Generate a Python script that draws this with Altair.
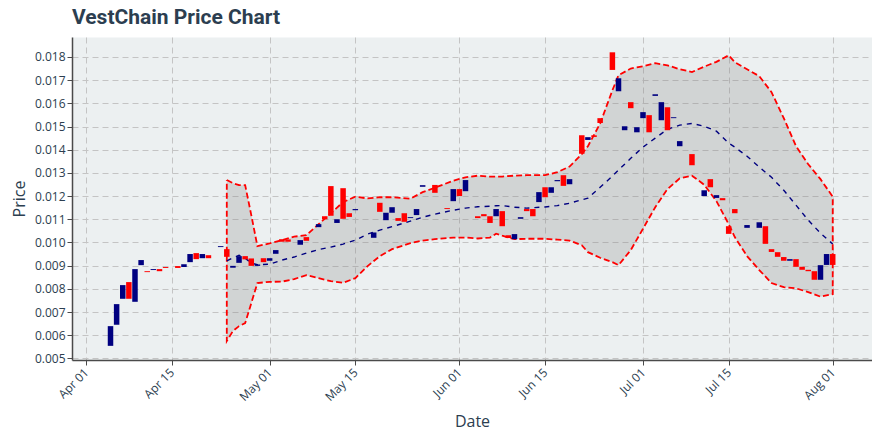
import altair as alt
import pandas as pd

BASE = "2019-04-01"  # day 0

# ---- candles: day offset from Apr 01, open, close ----
candle_day = [4, 5, 6, 7, 8, 9, 10, 11, 12, 13, 15, 16, 17, 18, 19, 20, 22, 23, 24, 25,
              26, 27, 28, 29, 30, 31, 32, 33, 35, 36, 38, 39, 40, 41, 42, 43, 44, 47, 48, 49,
              50, 51, 52, 53, 54, 55, 57, 59, 60, 61, 62, 64, 65, 66, 67, 68, 69, 70, 71, 72,
              73, 74, 75, 76, 77, 78, 79, 81, 82, 83, 84, 86, 87, 88, 89, 90, 91, 92, 93, 94,
              95, 96, 97, 99, 101, 102, 103, 104, 105, 106, 108, 110, 111, 112, 113, 114, 115, 116, 117, 118,
              119, 120, 121, 122]
candle_open = [0.00554, 0.00645, 0.00757, 0.00829, 0.00744, 0.00902, 0.00876, 0.00881, 0.00885, 0.00894,
               0.00898, 0.00894, 0.00915, 0.00954, 0.00932, 0.00945, 0.00980, 0.00971, 0.00891, 0.00912,
               0.00941, 0.00931, 0.00899, 0.00932, 0.00921, 0.00951, 0.01014, 0.01013, 0.00990, 0.01023,
               0.01066, 0.01113, 0.01243, 0.01084, 0.01234, 0.01126, 0.01139, 0.01020, 0.01171, 0.01096,
               0.01128, 0.01105, 0.01126, 0.01105, 0.01118, 0.01240, 0.01248, 0.01148, 0.01178, 0.01230,
               0.01221, 0.01113, 0.01122, 0.01113, 0.01113, 0.01135, 0.01031, 0.01014, 0.01102, 0.01144,
               0.01144, 0.01174, 0.01238, 0.01214, 0.01264, 0.01290, 0.01251, 0.01462, 0.01442, 0.01462,
               0.01536, 0.01820, 0.01652, 0.01484, 0.01605, 0.01475, 0.01536, 0.01549, 0.01632, 0.01527,
               0.01583, 0.01536, 0.01415, 0.01381, 0.01200, 0.01273, 0.01192, 0.01191, 0.01070, 0.01144,
               0.01063, 0.01063, 0.01070, 0.00971, 0.00958, 0.00937, 0.00921, 0.00928, 0.00895, 0.00882,
               0.00876, 0.00839, 0.00903, 0.00950]
candle_close = [0.00639, 0.00734, 0.00816, 0.00757, 0.00885, 0.00924, 0.00872, 0.00885, 0.00876, 0.00890,
                0.00890, 0.00906, 0.00950, 0.00928, 0.00950, 0.00932, 0.00984, 0.00938, 0.00899, 0.00941,
                0.00927, 0.00899, 0.00905, 0.00915, 0.00932, 0.00967, 0.01003, 0.01003, 0.01010, 0.01007,
                0.01079, 0.01100, 0.01115, 0.01100, 0.01102, 0.01110, 0.01144, 0.01043, 0.01132, 0.01128,
                0.01152, 0.01093, 0.01089, 0.01109, 0.01144, 0.01247, 0.01214, 0.01144, 0.01230, 0.01200,
                0.01269, 0.01105, 0.01113, 0.01084, 0.01144, 0.01070, 0.01019, 0.01036, 0.01109, 0.01135,
                0.01113, 0.01217, 0.01195, 0.01238, 0.01269, 0.01244, 0.01273, 0.01382, 0.01454, 0.01455,
                0.01515, 0.01744, 0.01708, 0.01501, 0.01579, 0.01497, 0.01562, 0.01475, 0.01639, 0.01605,
                0.01484, 0.01540, 0.01437, 0.01333, 0.01225, 0.01238, 0.01204, 0.01182, 0.01037, 0.01126,
                0.01075, 0.01087, 0.00994, 0.00959, 0.00938, 0.00921, 0.00928, 0.00895, 0.00882, 0.00876,
                0.00839, 0.00902, 0.00950, 0.00903]

# ---- Bollinger band readings ----
band_day = [23, 24, 25, 26, 27, 28, 30, 32, 34, 36, 38, 40, 42, 44, 46, 48, 50, 53, 55, 57,
            60, 62, 64, 66, 67, 68, 70, 72, 75, 77, 79, 81, 82, 84, 86, 87, 89, 91, 93, 95,
            97, 99, 101, 103, 105, 106, 108, 110, 112, 114, 116, 118, 120, 122]
band_upper = [0.01269, 0.01256, 0.01247, 0.01247, 0.01118, 0.00984, 0.00996, 0.01010, 0.01025, 0.01031,
              0.01079, 0.01126, 0.01174, 0.01197, 0.01190, 0.01195, 0.01195, 0.01189, 0.01217, 0.01236,
              0.01266, 0.01281, 0.01288, 0.01284, 0.01284, 0.01284, 0.01288, 0.01290, 0.01290, 0.01303,
              0.01327, 0.01381, 0.01415, 0.01513, 0.01656, 0.01721, 0.01750, 0.01760, 0.01773, 0.01764,
              0.01747, 0.01735, 0.01758, 0.01779, 0.01807, 0.01777, 0.01747, 0.01717, 0.01648, 0.01536,
              0.01415, 0.01337, 0.01273, 0.01197]
band_mid = [0.00921, 0.00934, 0.00945, 0.00932, 0.00911, 0.00904, 0.00906, 0.00924, 0.00937, 0.00954,
            0.00969, 0.00980, 0.00993, 0.01010, 0.01036, 0.01053, 0.01068, 0.01092, 0.01109, 0.01122,
            0.01139, 0.01148, 0.01154, 0.01156, 0.01158, 0.01159, 0.01152, 0.01148, 0.01153, 0.01159,
            0.01169, 0.01184, 0.01191, 0.01238, 0.01286, 0.01312, 0.01363, 0.01411, 0.01450, 0.01488,
            0.01506, 0.01513, 0.01501, 0.01480, 0.01428, 0.01411, 0.01372, 0.01325, 0.01281, 0.01225,
            0.01161, 0.01096, 0.01040, 0.00993]
band_lower = [0.00575, 0.00618, 0.00639, 0.00652, 0.00738, 0.00825, 0.00830, 0.00831, 0.00842, 0.00859,
              0.00846, 0.00833, 0.00826, 0.00846, 0.00898, 0.00941, 0.00971, 0.00997, 0.01008, 0.01014,
              0.01021, 0.01021, 0.01017, 0.01021, 0.01038, 0.01029, 0.01014, 0.01016, 0.01016, 0.01012,
              0.01008, 0.00988, 0.00958, 0.00934, 0.00915, 0.00902, 0.00967, 0.01059, 0.01152, 0.01230,
              0.01276, 0.01288, 0.01249, 0.01178, 0.01079, 0.01023, 0.00941, 0.00881, 0.00825, 0.00807,
              0.00802, 0.00786, 0.00766, 0.00777]

x_ticks = [(4, 1), (4, 15), (5, 1), (5, 15), (6, 1), (6, 15), (7, 1), (7, 15), (8, 1)]
y_ticks = [0.005, 0.006, 0.007, 0.008, 0.009, 0.010, 0.011, 0.012, 0.013, 0.014,
           0.015, 0.016, 0.017, 0.018]


def to_date(days):
    return [(pd.Timestamp(BASE) + pd.Timedelta(days=d)).strftime("%Y-%m-%d") for d in days]


candles = pd.DataFrame({
    "date": to_date(candle_day),
    "open": candle_open,
    "close": candle_close,
})
candles["dir"] = ["up" if c >= o else "down" for o, c in zip(candle_open, candle_close)]

band = pd.DataFrame({
    "date": to_date(band_day),
    "upper": band_upper,
    "mid": band_mid,
    "lower": band_lower,
})

# closed outline: upper forward, lower backward, back to start
outline_dates = to_date(band_day) + to_date(band_day[::-1]) + to_date(band_day[:1])
outline_vals = band_upper + band_lower[::-1] + band_upper[:1]
outline = pd.DataFrame({
    "date": outline_dates,
    "val": outline_vals,
    "ord": list(range(len(outline_vals))),
})

TXT = "#2c3e50"

x_scale = alt.Scale(
    type="utc",
    nice=False,
    padding=0,
    domain=[alt.DateTime(year=2019, month=3, date=29, hours=17, utc=True),
            alt.DateTime(year=2019, month=8, date=7, hours=10, utc=True)],
)
x_axis = alt.Axis(
    values=[alt.DateTime(year=2019, month=m, date=d, utc=True) for m, d in x_ticks],
    format="%b %d", labelAngle=-45, labelAlign="right", labelBaseline="middle",
    labelPadding=5, titleY=53, titleBaseline="top",
)
y_scale = alt.Scale(domain=[0.00493, 0.01886], nice=False, zero=False, padding=0)
y_axis = alt.Axis(values=y_ticks, format=".3f", titlePadding=7)


def X():
    return alt.X("date:T", title="Date", scale=x_scale, axis=x_axis)


def Y(field):
    return alt.Y(field, title="Price", scale=y_scale, axis=y_axis)


area = alt.Chart(band).mark_area(color="#808080", opacity=0.25).encode(
    x=X(), y=Y("upper:Q"), y2="lower:Q"
)
edge = alt.Chart(outline).mark_line(color="#ff0000", strokeWidth=1.8, strokeDash=[6, 3]).encode(
    x=X(), y=Y("val:Q"), order="ord:Q"
)
mid = alt.Chart(band).mark_line(color="#000080", strokeWidth=1.4, strokeDash=[5, 5]).encode(
    x=X(), y=Y("mid:Q")
)
bars = alt.Chart(candles).mark_bar(size=5.5).encode(
    x=X(), y=Y("open:Q"), y2="close:Q",
    color=alt.Color("dir:N", scale=alt.Scale(domain=["up", "down"], range=["#000080", "#ff0000"]),
                    legend=None),
)

chart = alt.layer(area, edge, mid, bars).properties(
    width=800,
    height=323,
    padding={"left": 64, "top": 29, "right": 0, "bottom": 74},
    autosize=alt.AutoSizeParams(type="none"),
    background="white",
    title=alt.TitleParams("VestChain Price Chart", anchor="start", frame="group",
                          fontSize=21, fontWeight="bold", color=TXT, font="Roboto", offset=9),
).configure(font="Open Sans").configure_view(
    fill="#ecf0f1", stroke="transparent"
).configure_axis(
    grid=True, gridDash=[6, 4], gridColor="#c4c4c4", gridWidth=1,
    domainColor="#4a4a4a", domainWidth=1.5, tickColor="#4a4a4a", tickSize=5,
    labelColor=TXT, titleColor=TXT, labelFont="Open Sans", titleFont="Open Sans",
    labelFontSize=12, titleFontSize=16, titleFontWeight="normal",
)

chart.save("out.html", embed_options={"renderer": "svg", "actions": False})
